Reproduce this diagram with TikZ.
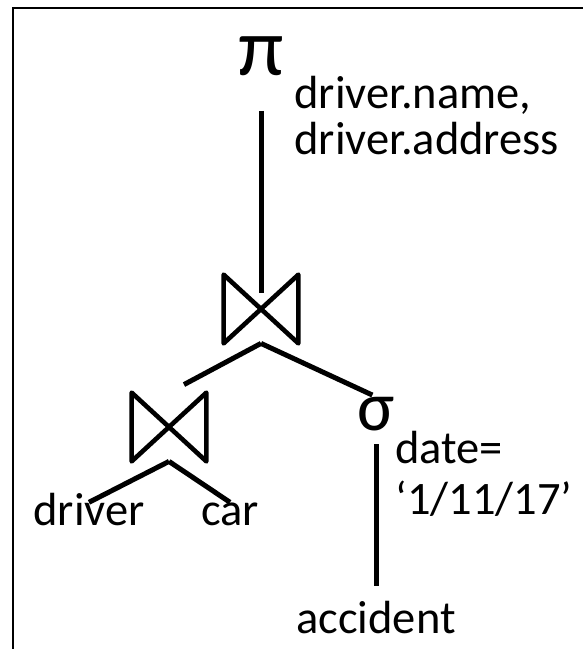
\documentclass[tikz,border=0pt]{standalone}
\usepackage{fontspec}
\setmainfont{Carlito}
\usetikzlibrary{positioning}

\tikzset{
    opsym/.style={
        font=\fontsize{41}{41}\selectfont,
        inner sep=0pt
    },
    relname/.style={
        font=\fontsize{23.25}{23}\selectfont,
        text height=16.3pt,
        text depth=0pt,
        inner sep=0pt
    },
    subarg/.style={
        font=\fontsize{23.25}{23}\selectfont,
        align=left,
        inner sep=0pt
    },
    joinop/.style={
        minimum width=37pt,
        minimum height=34pt,
        inner sep=0pt
    },
    edge/.style={
        line width=2.5pt,
        color=black
    },
    frame/.style={
        line width=1.3pt,
        color=black
    }
}

\begin{document}
\begin{tikzpicture}[on grid]
    \useasboundingbox (0,0) rectangle (291.5pt,-324.5pt);
    % Frame
    \draw[frame] (6.5pt,-324.5pt) |- (291.5pt,-4pt);

    % Joins
    \node[joinop] (join1) at (130.5pt,-154.5pt) {};
    \node[joinop, below left=59pt and 46pt of join1] (join2) {};

    % Projection and selection
    \node[opsym, above=126.5pt of join1] (proj) {π};
    \node[opsym, font=\fontsize{35}{35}\selectfont, below right=52.5pt and 57.5pt of join1] (sel) {σ};

    % Subscripts
    \node[subarg, right=5pt of proj.south east, anchor=north west] (projarg) {driver.name,\\driver.address};
    \node[subarg, font=\fontsize{23.25}{25.5}\selectfont, right=0pt of sel.south east, anchor=north west] (selarg) {date=\\‘1/11/17’};

    % Relations
    \node[relname, below left=41pt and 40pt of join2] (driver) {driver};
    \node[relname, below right=41pt and 30.5pt of join2] (car) {car};
    \node[relname, below=101.5pt of sel] (accident) {accident};

    % Bowtie symbols
    \foreach \j in {join1,join2}
        \draw[edge, line width=2.3pt, line join=round] (\j.north west) -- (\j.south east) -- (\j.north east) -- (\j.south west) -- cycle;

    % Tree edges
    \draw[edge, shorten <=17.5pt, shorten >=8pt] (proj.south) -- (join1.center);
    \draw[edge, shorten >=8.5pt] (join1.south) -- (join2.north);
    \draw[edge, shorten >=2pt] (join1.south) -- (sel.north);
    \draw[edge] (join2.south) -- ([yshift=-5pt]driver.north);
    \draw[edge] (join2.south) -- ([yshift=-5pt]car.north);
    \draw[edge, shorten <=6.5pt, shorten >=7pt] (sel.south) -- (accident.north);
\end{tikzpicture}
\end{document}
